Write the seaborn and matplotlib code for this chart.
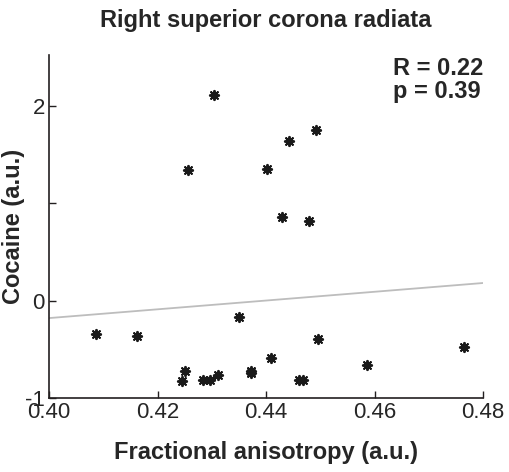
import matplotlib
matplotlib.use("Agg")
import matplotlib.pyplot as plt
import seaborn as sns

# FA vs cocaine
fa = [0.4087, 0.4162, 0.4245, 0.4251, 0.4284, 0.4297, 0.4311, 0.4350,
      0.4372, 0.4373, 0.4410, 0.4460, 0.4468, 0.4495, 0.4587, 0.4764,
      0.4256, 0.4305, 0.4401, 0.4430, 0.4442, 0.4479, 0.4493]
cocaine = [-0.34, -0.36, -0.83, -0.72, -0.82, -0.82, -0.76, -0.17,
           -0.72, -0.74, -0.59, -0.82, -0.82, -0.39, -0.66, -0.48,
           1.34, 2.11, 1.35, 0.86, 1.64, 0.82, 1.75]

fit_x = [0.40, 0.48]
fit_y = [-0.18, 0.18]

x_ticks = [0.40, 0.42, 0.44, 0.46, 0.48]
x_ticklabels = ["0.40", "0.42", "0.44", "0.46", "0.48"]
y_ticks = [-1, 0, 1, 2]
y_ticklabels = ["-1", "0", "", "2"]

stats_text = "R = 0.22\np = 0.39"

sns.set_style("ticks")
plt.rcParams["font.family"] = ["Liberation Sans", "DejaVu Sans"]

fig = plt.figure(figsize=(5.09, 4.72), dpi=100)
ax = fig.add_axes([0.0963, 0.1568, 0.8527, 0.7267])

sns.lineplot(x=fit_x, y=fit_y, ax=ax, color="#bdbdbd", linewidth=1.3)
sns.scatterplot(x=fa, y=cocaine, ax=ax, marker=(8, 2, 0), s=45,
                color="#1a1a1a", edgecolor="#1a1a1a", linewidth=1.4)

ax.set_xlim(0.40, 0.48)
ax.set_ylim(-1, 2.52)
ax.set_xticks(x_ticks)
ax.set_xticklabels(x_ticklabels)
ax.set_yticks(y_ticks)
ax.set_yticklabels(y_ticklabels)
ax.tick_params(direction="in", length=5, width=1, labelsize=16, pad=3, color="#231f20")
for side in ["left", "bottom"]:
    ax.spines[side].set_linewidth(1.2)
    ax.spines[side].set_color("#231f20")
sns.despine(ax=ax)

ax.set_title("Right superior corona radiata", fontsize=17, fontweight="bold", pad=20)
ax.set_xlabel("Fractional anisotropy (a.u.)", fontsize=17, fontweight="bold", labelpad=13)
ax.set_ylabel("Cocaine (a.u.)", fontsize=17, fontweight="bold", labelpad=0)
ax.text(0.4634, 2.5, stats_text, fontsize=17, fontweight="bold",
        ha="left", va="top", linespacing=1.0)

fig.savefig("out.png", dpi=100)
plt.close(fig)
